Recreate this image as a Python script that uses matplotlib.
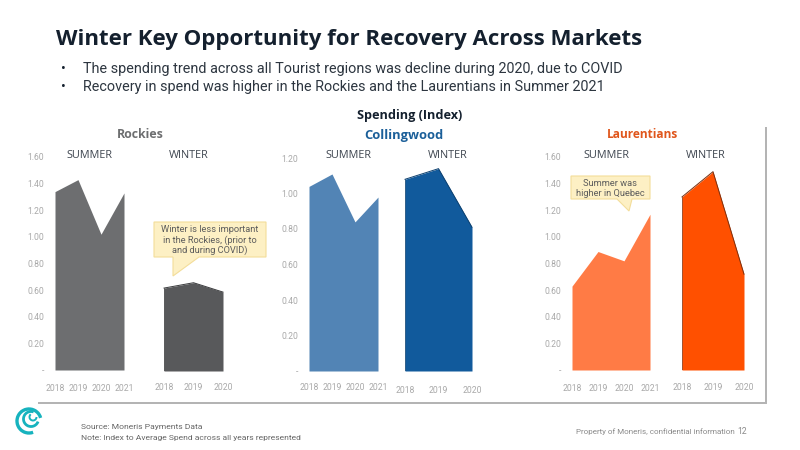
import matplotlib
matplotlib.use("Agg")
import matplotlib.pyplot as plt
from matplotlib.patches import Arc, Polygon, Rectangle

# Data
years_summer = ["2018", "2019", "2020", "2021"]
years_winter = ["2018", "2019", "2020"]

rockies_summer = [1.34, 1.43, 1.02, 1.33]
rockies_winter = [0.62, 0.66, 0.59]
collingwood_summer = [1.04, 1.11, 0.84, 0.98]
collingwood_winter = [1.08, 1.14, 0.81]
laurentians_summer = [0.63, 0.89, 0.82, 1.17]
laurentians_winter = [1.30, 1.49, 0.72]

ticks_160 = [0, 0.2, 0.4, 0.6, 0.8, 1.0, 1.2, 1.4, 1.6]
ticks_120 = [0, 0.2, 0.4, 0.6, 0.8, 1.0, 1.2]

bullets = [
    "The spending trend across all Tourist regions was decline during 2020, due to COVID",
    "Recovery in spend was higher in the Rockies and the Laurentians in Summer 2021",
]

W, H = 800, 450
HEAD = "Open Sans"
BODY = "Roboto"
DARK = "#14202e"
TICK = "#a9a9a9"

fig = plt.figure(figsize=(8, 4.5), dpi=100, facecolor="white")

# overlay in pixel coordinates, for the slide furniture
bg = fig.add_axes([0, 0, 1, 1], zorder=0)
bg.set_xlim(0, W); bg.set_ylim(H, 0); bg.axis("off")

# card with a grey shadow on the right and bottom
bg.add_patch(Rectangle((38, 127), 729, 277, color="#b4b4b4", lw=0))
bg.add_patch(Rectangle((35, 125), 730, 277, color="white", lw=0))

top = fig.add_axes([0, 0, 1, 1], zorder=5)
top.set_xlim(0, W); top.set_ylim(H, 0); top.axis("off")


def area(x0, x1, y_top, y_zero, ymax, values, labels, color, edge=None,
         yticks=None, label_y=380):
    ax = fig.add_axes([x0 / W, 1 - y_zero / H, (x1 - x0) / W, (y_zero - y_top) / H], zorder=2)
    xs = list(range(len(values)))
    ax.fill_between(xs, values, 0, color=color, lw=0)
    if edge:
        ax.plot(xs, values, color=edge, lw=0.7, clip_on=False)
        ax.plot([0, 0], [0, values[0]], color=edge, lw=0.5)
        ax.plot([xs[-1], xs[-1]], [0, values[-1]], color=edge, lw=0.5)
    ax.set_xlim(0, len(values) - 1)
    ax.set_ylim(0, ymax)
    ax.patch.set_alpha(0)
    for s in ax.spines.values():
        s.set_visible(False)
    ax.set_xticks(xs)
    ax.set_xticklabels(labels, fontsize=6.2, color=TICK, family=BODY)
    ax.tick_params(axis="x", length=0, pad=label_y - y_zero)
    if yticks:
        ax.set_yticks(yticks)
        ax.set_yticklabels(["-" if t == 0 else f"{t:.2f}" for t in yticks],
                           fontsize=6.2, color=TICK, family=BODY)
        ax.tick_params(axis="y", length=0, pad=8)
    else:
        ax.set_yticks([])
    return ax


# Rockies
area(55, 124, 157, 370, 1.6, rockies_summer, years_summer, "#6d6e70", yticks=ticks_160)
area(164, 223, 157, 371, 1.6, rockies_winter, years_winter, "#58595b", edge="#3a3b3d")
# Collingwood
area(309, 378, 158, 371, 1.2, collingwood_summer, years_summer, "#5284b5", yticks=ticks_120)
area(405, 472, 158, 371, 1.2, collingwood_winter, years_winter, "#115a9c", edge="#0c3f6e", label_y=382)
# Laurentians
area(572, 650, 157, 370, 1.6, laurentians_summer, years_summer, "#ff7b45", yticks=ticks_160)
area(682, 744, 157, 370, 1.6, laurentians_winter, years_winter, "#ff5000", edge="#7a3010", label_y=379)

# Title and bullets
top.text(56, 39, "Winter Key Opportunity for Recovery Across Markets", fontsize=16.05,
         fontweight="bold", family=HEAD, color=DARK, va="center")
for y, line in zip([69, 87], bullets):
    top.text(63, y, "\u2022", fontsize=10, color=DARK, va="center", ha="center", family=BODY)
    top.text(83, y, line, fontsize=10.4, color="#2d3640", va="center", family=BODY)

# Panel headings
top.text(410, 116, "Spending (Index)", fontsize=9.1, fontweight="bold", family=HEAD,
         color=DARK, ha="center", va="center")
top.text(140, 135, "Rockies", fontsize=8.9, fontweight="bold", family=HEAD,
         color="#6d6e70", ha="center", va="center")
top.text(404, 135, "Collingwood", fontsize=9.3, fontweight="bold", family=HEAD,
         color="#1b5f99", ha="center", va="center")
top.text(642, 134, "Laurentians", fontsize=8.6, fontweight="bold", family=HEAD,
         color="#e0561c", ha="center", va="center")

# Season headings
for x, y, s in [(89, 156, "SUMMER"), (189, 156, "WINTER"),
                (348, 155, "SUMMER"), (448, 155, "WINTER"),
                (606, 155, "SUMMER"), (706, 155, "WINTER")]:
    top.text(x, y, s, fontsize=7.8, family=HEAD, color="#3f4650", ha="center", va="center")

# Callouts
top.add_patch(Polygon([(154, 222), (266, 222), (266, 257), (199, 257), (173, 276),
                       (173, 257), (154, 257)], closed=True, fc="#fdf0c4", ec="#f3dd9a", lw=0.8))
for y, s in zip([230, 240, 250], ["Winter is less important", "in the Rockies, (prior to",
                                  "and during COVID)"]):
    top.text(210, y, s, fontsize=6.7, family=BODY, color="#5c5c5c", ha="center", va="center")

top.add_patch(Polygon([(571, 176), (650, 176), (650, 199), (632, 199), (629, 211),
                       (617, 199), (571, 199)], closed=True, fc="#fdf0c4", ec="#f3dd9a", lw=0.8))
for y, s in zip([183, 193], ["Summer was", "higher in Quebec"]):
    top.text(610, y, s, fontsize=6.7, family=BODY, color="#5c5c5c", ha="center", va="center")

# Footer
top.text(81, 427, "Source: Moneris Payments Data", fontsize=6.1, family=BODY, color="#666666", va="center")
top.text(81, 438, "Note: Index to Average Spend across all years represented", fontsize=6.1,
         family=BODY, color="#666666", va="center")
top.text(576, 432, "Property of Moneris, confidential information", fontsize=5.8, family=BODY,
         color="#8a8a8a", va="center")
top.text(742, 432, "12", fontsize=6.2, family=BODY, color="#8a8a8a", va="center", ha="center")

# Logo, a rough teal swirl
for cx, cy, w, h, a0, a1, lw in [(29, 421, 24, 24, 70, 345, 2.4),
                                 (31, 419, 15, 15, 20, 290, 2.0),
                                 (33, 417, 7, 7, 0, 230, 1.4)]:
    top.add_patch(Arc((cx, cy), w, h, theta1=a0, theta2=a1, color="#17b3be", lw=lw))

fig.savefig("out.png", dpi=100)
